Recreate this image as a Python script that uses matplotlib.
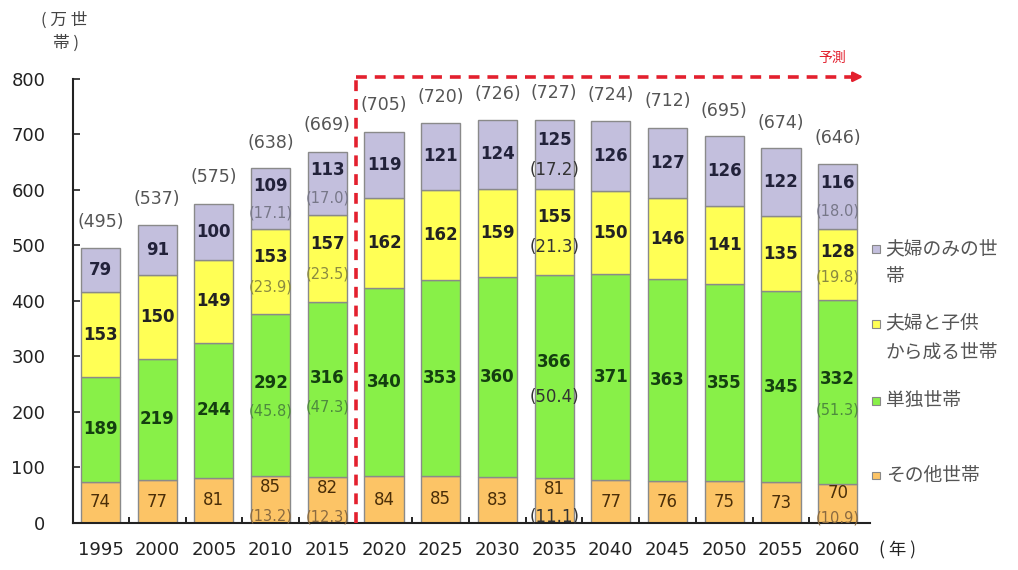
import numpy as np
import matplotlib
matplotlib.use("Agg")
import matplotlib.pyplot as plt
from matplotlib.ticker import FixedLocator

plt.rcParams['font.family'] = ['DejaVu Sans', 'Noto Sans CJK JP']

# ---- data (万世帯) ----
years = ['1995', '2000', '2005', '2010', '2015', '2020', '2025',
         '2030', '2035', '2040', '2045', '2050', '2055', '2060']
other = [74, 77, 81, 85, 82, 84, 85, 83, 81, 77, 76, 75, 73, 70]
single = [189, 219, 244, 292, 316, 340, 353, 360, 366, 371, 363, 355, 345, 332]
couple_child = [153, 150, 149, 153, 157, 162, 162, 159, 155, 150, 146, 141, 135, 128]
couple_only = [79, 91, 100, 109, 113, 119, 121, 124, 125, 126, 127, 126, 122, 116]
totals = [495, 537, 575, 638, 669, 705, 720, 726, 727, 724, 712, 695, 674, 646]

# shares (%) shown for some years
pct_years = ['2010', '2015', '2035', '2060']
pct_other = [13.2, 12.3, 11.1, 10.9]
pct_single = [45.8, 47.3, 50.4, 51.3]
pct_couple_child = [23.9, 23.5, 21.3, 19.8]
pct_couple_only = [17.1, 17.0, 17.2, 18.0]

labels = ['その他世帯', '単独世帯', '夫婦と子供\nから成る世帯', '夫婦のみの世\n帯']

layers = [other, single, couple_child, couple_only]
pcts = [pct_other, pct_single, pct_couple_child, pct_couple_only]
colors = ['#FCC466', '#88F048', '#FFFF55', '#C3BFDD']
txt_colors = ['#4A2E08', '#143F10', '#222222', '#22223A']
pct_colors = ['#8A6A40', '#4E8A3E', '#8A8A40', '#777788']
# vertical placement (fraction of segment) of value / share labels
frac_val = [0.76, 0.57, 0.67, 0.71]
frac_pct = [0.14, 0.40, 0.32, 0.27]

fig = plt.figure(figsize=(10.18, 5.70), dpi=100)
ax = fig.add_axes([0.0717, 0.0825, 0.7829, 0.7789])

x = np.arange(len(years))
bottom = np.zeros(len(years))
for k, vals in enumerate(layers):
    vals = np.array(vals, dtype=float)
    ax.bar(x, vals, width=0.69, bottom=bottom, color=colors[k],
           edgecolor='#8A8A8A', linewidth=1.0, zorder=2)
    for i, v in enumerate(vals):
        yr = years[i]
        if yr in pct_years:
            j = pct_years.index(yr)
            yv = bottom[i] + frac_val[k] * v
            yp = bottom[i] + frac_pct[k] * v
            ax.text(x[i], yv, '%d' % v, ha='center', va='center',
                    fontsize=12, fontweight='bold' if k > 0 else 'medium',
                    color=txt_colors[k], zorder=4)
            if yr == '2035':
                ax.text(x[i], yp, '(%.1f)' % pcts[k][j], ha='center', va='center',
                        fontsize=12, color='#333333', zorder=4, clip_on=False)
            else:
                ax.text(x[i], yp, '(%.1f)' % pcts[k][j], ha='center', va='center',
                        fontsize=10.5, color=pct_colors[k], zorder=4, clip_on=False)
        else:
            ax.text(x[i], bottom[i] + v / 2, '%d' % v, ha='center', va='center',
                    fontsize=12, fontweight='bold' if k > 0 else 'medium',
                    color=txt_colors[k], zorder=4)
    bottom += vals

for i, t in enumerate(totals):
    ax.annotate('(%d)' % t, (x[i], t), xytext=(0, 19), textcoords='offset points',
                ha='center', va='center', fontsize=12.5, color='#555555')

ax.set_xlim(-0.485, 13.57)
ax.set_ylim(0, 800)
ax.set_yticks(np.arange(0, 801, 100))
ax.set_xticks(x)
ax.set_xticklabels(years)
ax.xaxis.set_minor_locator(FixedLocator(x[:-1] + 0.5))
ax.tick_params(axis='x', which='major', length=0, pad=13, labelsize=13, colors='#222222')
ax.tick_params(axis='x', which='minor', direction='in', length=4, width=1.2)
ax.tick_params(axis='y', direction='in', length=5, width=1.2, pad=20,
               labelsize=13, colors='#222222')
for s in ['top', 'right']:
    ax.spines[s].set_visible(False)
for s in ['left', 'bottom']:
    ax.spines[s].set_linewidth(1.5)
    ax.spines[s].set_color('#222222')

# forecast marker
red = '#E3202E'
ax.plot([4.5, 4.5], [0, 804], color=red, lw=2.6, ls=(0, (3, 2.2)),
        clip_on=False, zorder=3)
ax.plot([4.5, 13.3], [804, 804], color=red, lw=2.6, ls=(0, (3, 2.2)),
        clip_on=False, zorder=3)
ax.annotate('', xy=(13.5, 804), xytext=(13.2, 804),
            arrowprops=dict(arrowstyle='-|>', color=red, lw=2, mutation_scale=14),
            annotation_clip=False)
ax.text(12.9, 826, '予測', color=red, fontsize=10, ha='center', va='bottom',
        family=['Noto Sans CJK JP'])

# unit labels
fig.text(0.040, 0.965, '( 万 世', ha='left', va='center', fontsize=12,
         color='#444444', family=['Noto Sans CJK JP'])
fig.text(0.052, 0.925, '帯 )', ha='left', va='center', fontsize=12,
         color='#444444', family=['Noto Sans CJK JP'])
fig.text(0.882, 0.035, '( 年 )', ha='center', va='center', fontsize=12.5,
         color='#222222', family=['Noto Sans CJK JP'])

# legend, drawn by hand to match layout
leg_y = [0.167, 0.298, 0.433, 0.565]   # figure fractions (from bottom), by layer
for k in range(4):
    fig.patches.append(plt.Rectangle((0.857, leg_y[k] - 0.008), 0.0075, 0.0135,
                                     transform=fig.transFigure, facecolor=colors[k],
                                     edgecolor='#888888', lw=0.8))
    multi = '\n' in labels[k]
    fig.text(0.870, leg_y[k] + (0.017 if multi else 0.0), labels[k], ha='left',
             va='top' if multi else 'center',
             fontsize=13.5, color='#555555', family=['Noto Sans CJK JP'],
             linespacing=1.45)

fig.savefig('out.png', dpi=100)
